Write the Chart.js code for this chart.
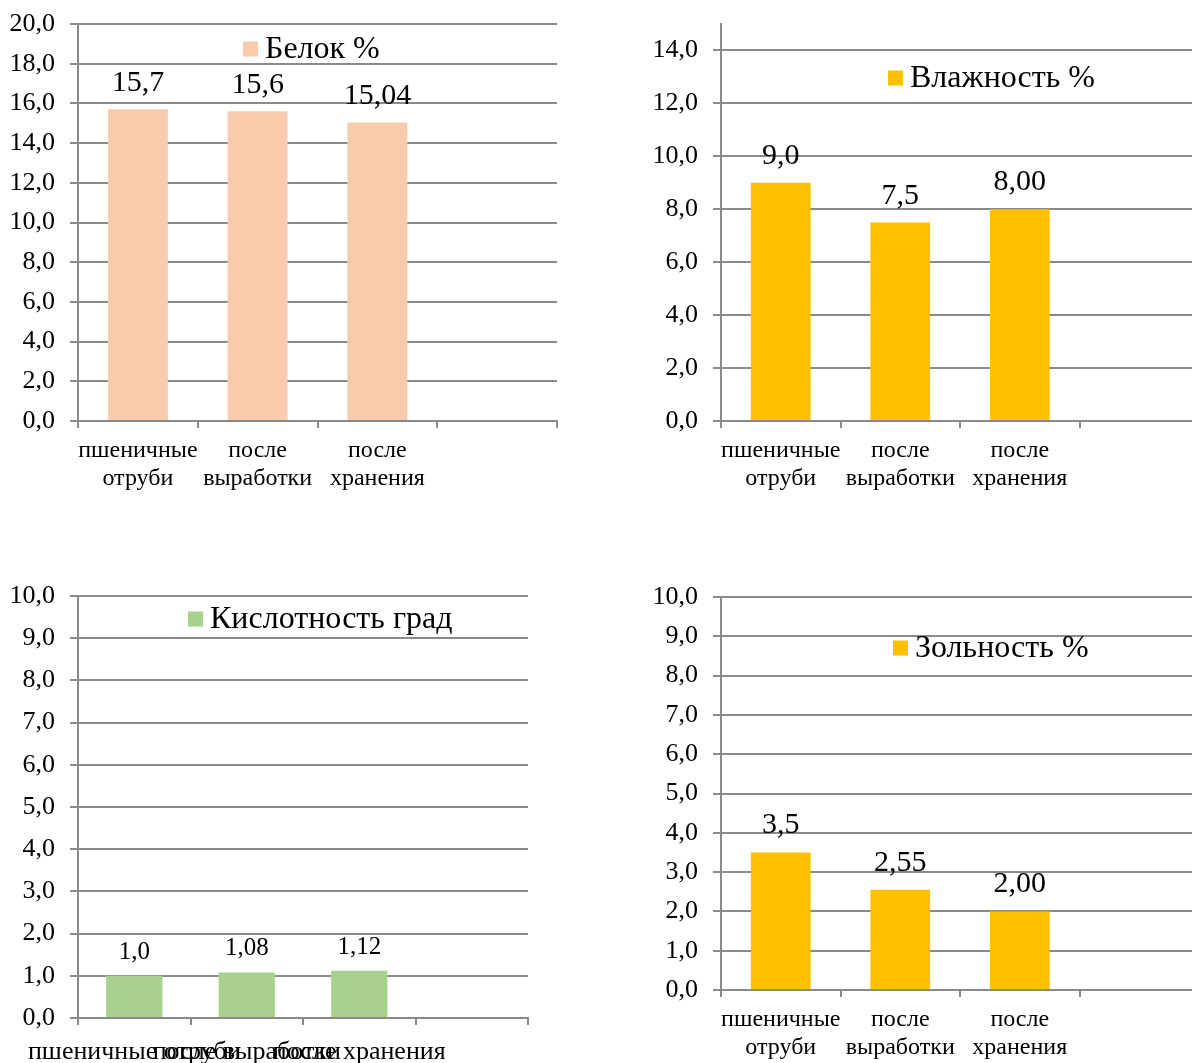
<!DOCTYPE html>
<html lang="ru">
<head>
<meta charset="utf-8">
<title>Показатели пшеничных отрубей</title>
<script src="https://cdn.jsdelivr.net/npm/chart.js@4.4.1/dist/chart.umd.min.js"></script>
<style>
  html, body { margin: 0; padding: 0; background: #fff; overflow: hidden; }
  body { width: 1192px; height: 1063px; position: relative; }
  canvas { position: absolute; }
</style>
</head>
<body>
<canvas id="belok" width="600" height="520" style="left:0;top:0"></canvas>
<canvas id="vlazhnost" width="600" height="520" style="left:600px;top:0"></canvas>
<canvas id="kislotnost" width="600" height="503" style="left:0;top:560px"></canvas>
<canvas id="zolnost" width="600" height="503" style="left:600px;top:560px"></canvas>
<script>
// категории (последняя пустая, как в исходной таблице)
const categories = [["пшеничные", "отруби"], ["после", "выработки"], ["после", "хранения"], ""];
const categoriesFlat = ["пшеничные отруби", "после выработки", "после хранения", ""];

const belokValues = [15.7, 15.6, 15.04];
const belokDigits = [1, 1, 2];
const belokTicks = [0, 2, 4, 6, 8, 10, 12, 14, 16, 18, 20];

const vlazhnostValues = [9.0, 7.5, 8.0];
const vlazhnostDigits = [1, 1, 2];
const vlazhnostTicks = [0, 2, 4, 6, 8, 10, 12, 14];

const kislotnostValues = [1.0, 1.08, 1.12];
const kislotnostDigits = [1, 2, 2];
const kislotnostTicks = [0, 1, 2, 3, 4, 5, 6, 7, 8, 9, 10];

const zolnostValues = [3.5, 2.55, 2.0];
const zolnostDigits = [1, 2, 2];
const zolnostTicks = [0, 1, 2, 3, 4, 5, 6, 7, 8, 9, 10];

const FONT = '"Liberation Serif", "Times New Roman", serif';
const GRID = '#8a8a8a';
Chart.defaults.font.family = FONT;
Chart.defaults.color = '#000';

const fmt = (v, d) => v.toFixed(d).replace('.', ',');

// подписи значений над столбцами
const valueLabels = {
  id: 'valueLabels',
  afterDatasetsDraw(chart, args, opts) {
    const ctx = chart.ctx;
    const data = chart.data.datasets[0].data;
    ctx.save();
    ctx.font = opts.size + 'px ' + FONT;
    ctx.fillStyle = '#000';
    ctx.textAlign = 'center';
    ctx.textBaseline = 'alphabetic';
    chart.getDatasetMeta(0).data.forEach((bar, i) => {
      ctx.fillText(fmt(data[i], opts.digits[i]), bar.x, bar.y - opts.gap);
    });
    ctx.restore();
  }
};

// легенда внутри области построения
const boxLegend = {
  id: 'boxLegend',
  afterDraw(chart, args, opts) {
    const ctx = chart.ctx;
    const ds = chart.data.datasets[0];
    const s = 15;
    ctx.save();
    ctx.fillStyle = ds.backgroundColor;
    ctx.fillRect(opts.x, opts.y - s / 2, s, s);
    ctx.font = '32px ' + FONT;
    ctx.fillStyle = '#000';
    ctx.textAlign = 'left';
    ctx.textBaseline = 'middle';
    ctx.fillText(ds.label, opts.x + s + 7, opts.y + 1);
    ctx.restore();
  }
};

function barChart(id, cfg) {
  const canvas = document.getElementById(id);
  const a = cfg.area;
  return new Chart(canvas, {
    type: 'bar',
    data: {
      labels: cfg.labels,
      datasets: [{
        label: cfg.label,
        data: cfg.values,
        backgroundColor: cfg.color,
        borderWidth: 0,
        categoryPercentage: 1,
        barPercentage: 0.5
      }]
    },
    options: {
      responsive: false,
      animation: false,
      events: [],
      layout: {
        autoPadding: false,
        padding: { top: a.top, right: canvas.width - a.right, left: 0, bottom: 0 }
      },
      plugins: {
        legend: { display: false },
        tooltip: { enabled: false },
        valueLabels: { digits: cfg.digits, size: cfg.valueSize, gap: cfg.gap },
        boxLegend: cfg.legend
      },
      scales: {
        x: {
          afterFit(scale) {
            scale.height = canvas.height - a.bottom;
            scale.paddingLeft = 0;
            scale.paddingRight = 0;
          },
          grid: { offset: true, drawOnChartArea: false, drawTicks: true, tickLength: 7, color: GRID, lineWidth: 2 },
          border: { color: GRID, width: 2 },
          ticks: {
            autoSkip: false, maxRotation: 0, minRotation: 0, padding: cfg.xPad,
            font: { size: cfg.xSize, lineHeight: 1.17 }
          }
        },
        y: {
          min: 0,
          max: cfg.max,
          afterFit(scale) {
            scale.width = a.left;
            scale.paddingTop = 0;
            scale.paddingBottom = 0;
          },
          afterBuildTicks(scale) { scale.ticks = cfg.ticks.map(v => ({ value: v })); },
          grid: { color: GRID, lineWidth: 2, drawTicks: true, tickLength: 8 },
          border: { color: GRID, width: 2 },
          ticks: { padding: 15, font: { size: 26 }, callback: v => fmt(v, 1) }
        }
      }
    },
    plugins: [valueLabels, boxLegend]
  });
}

barChart('belok', {
  labels: categories, values: belokValues, digits: belokDigits, ticks: belokTicks, max: 20,
  label: 'Белок %', color: '#F8CBAD',
  area: { left: 78, right: 557, top: 24, bottom: 421 },
  legend: { x: 243, y: 49 }, valueSize: 30, gap: 18, xPad: 9, xSize: 24
});

barChart('vlazhnost', {
  labels: categories, values: vlazhnostValues, digits: vlazhnostDigits, ticks: vlazhnostTicks, max: 15,
  label: 'Влажность %', color: '#FFC000',
  area: { left: 121, right: 599, top: 24, bottom: 421 },
  legend: { x: 288, y: 78 }, valueSize: 30, gap: 19, xPad: 9, xSize: 24
});

barChart('kislotnost', {
  labels: categoriesFlat, values: kislotnostValues, digits: kislotnostDigits, ticks: kislotnostTicks, max: 10,
  label: 'Кислотность град', color: '#A9D18E',
  area: { left: 78, right: 528, top: 36, bottom: 458 },
  legend: { x: 188, y: 59 }, valueSize: 25, gap: 17, xPad: 12, xSize: 26
});

barChart('zolnost', {
  labels: categories, values: zolnostValues, digits: zolnostDigits, ticks: zolnostTicks, max: 10,
  label: 'Зольность %', color: '#FFC000',
  area: { left: 121, right: 599, top: 37, bottom: 430 },
  legend: { x: 293, y: 88 }, valueSize: 30, gap: 19, xPad: 9, xSize: 24
});
</script>
</body>
</html>
